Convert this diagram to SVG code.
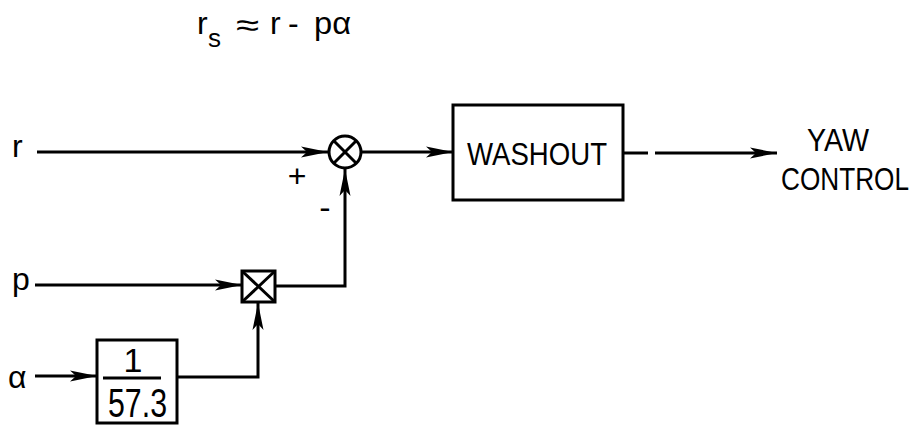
<svg xmlns="http://www.w3.org/2000/svg" width="919" height="426" viewBox="0 0 919 426">
<style>
text{font-family:"Liberation Sans",Arial,sans-serif;fill:#000}
.ln{stroke:#000;stroke-width:3;fill:none}
.bx{stroke:#000;stroke-width:3;fill:#fff}
.lbl{font-size:32px}
</style>
<defs>
<marker id="ah" markerUnits="userSpaceOnUse" markerWidth="28" markerHeight="12" refX="27" refY="6" orient="auto">
<path d="M0,0.5 L27,6 L0,11.5 L6,6 Z" fill="#000"/>
</marker>
</defs>
<rect width="919" height="426" fill="#fff"/>
<g id="title">
<text class="lbl" x="197" y="34">r</text>
<text x="208" y="47" font-size="26">s</text>
<text class="lbl" x="236" y="36" textLength="23" lengthAdjust="spacingAndGlyphs">≈</text>
<text class="lbl" x="270" y="34">r</text>
<text class="lbl" x="288" y="34">-</text>
<text class="lbl" x="314" y="34" textLength="37" lengthAdjust="spacingAndGlyphs">pα</text>
</g>
<g id="connectors">
<line class="ln" x1="37" y1="152" x2="328" y2="152" marker-end="url(#ah)"/>
<line class="ln" x1="362" y1="152" x2="453" y2="152" marker-end="url(#ah)"/>
<line class="ln" x1="623" y1="153" x2="648" y2="153"/>
<line class="ln" x1="655" y1="153" x2="777" y2="153" marker-end="url(#ah)"/>
<line class="ln" x1="35" y1="285" x2="242" y2="285" marker-end="url(#ah)"/>
<polyline class="ln" points="275,286 345,286 345,169" marker-end="url(#ah)"/>
<line class="ln" x1="35" y1="376" x2="97" y2="376" marker-end="url(#ah)"/>
<polyline class="ln" points="177,377 258,377 258,303" marker-end="url(#ah)"/>
</g>
<g id="in_r"><text class="lbl" x="12" y="157">r</text></g>
<g id="in_p"><text class="lbl" x="12" y="290">p</text></g>
<g id="in_alpha"><text class="lbl" x="8" y="388">α</text></g>
<g id="sum">
<circle class="bx" cx="345" cy="152" r="16"/>
<line class="ln" x1="334" y1="141" x2="356" y2="163"/>
<line class="ln" x1="356" y1="141" x2="334" y2="163"/>
<text x="297" y="187" font-size="32" text-anchor="middle">+</text>
<text x="325" y="219" font-size="34" text-anchor="middle">-</text>
</g>
<g id="mult">
<rect class="bx" x="242" y="271" width="33" height="31"/>
<line class="ln" x1="242" y1="271" x2="275" y2="302"/>
<line class="ln" x1="275" y1="271" x2="242" y2="302"/>
</g>
<g id="gain">
<rect class="bx" x="97" y="340" width="80" height="83"/>
<text x="133" y="372" font-size="34" text-anchor="middle">1</text>
<line class="ln" x1="103" y1="378" x2="161" y2="378"/>
<text x="108" y="417" font-size="40" textLength="59" lengthAdjust="spacingAndGlyphs">57.3</text>
</g>
<g id="washout">
<rect class="bx" x="453" y="105" width="170" height="95"/>
<text class="lbl" x="467" y="165" textLength="140" lengthAdjust="spacingAndGlyphs">WASHOUT</text>
</g>
<g id="out">
<text transform="translate(807,151) scale(1,1.15)" font-size="28" textLength="62" lengthAdjust="spacingAndGlyphs">YAW</text>
<text transform="translate(781,190) scale(1,1.15)" font-size="28" textLength="128" lengthAdjust="spacingAndGlyphs">CONTROL</text>
</g>
</svg>
